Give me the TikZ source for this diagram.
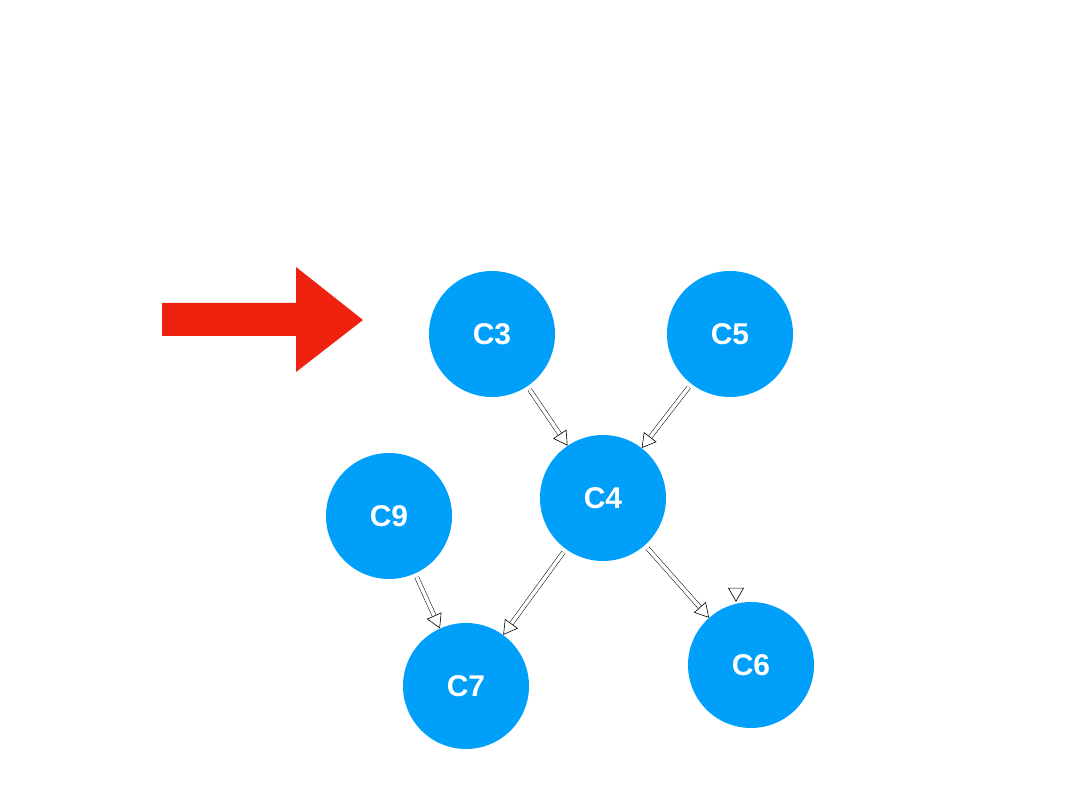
\documentclass[tikz,border=0pt]{standalone}
\usepackage{fontspec}
\setmainfont{Liberation Sans}
\usetikzlibrary{arrows.meta}
\begin{document}
\begin{tikzpicture}[x=1pt,y=-1pt,
  cnode/.style={circle,fill=cblue,minimum size=126pt,inner sep=0pt,text=white,font=\fontsize{30}{30}\selectfont\bfseries},
  link/.style={draw=black,line width=0.5pt,double=white,double distance=3.5pt,shorten <=4pt,
    -{Triangle[open,length=14pt,width=16pt,fill=white,line width=0.6pt]}}]
\definecolor{cblue}{RGB}{0,160,250}
\definecolor{cred}{RGB}{238,34,14}
\useasboundingbox (0,0) rectangle (1080,810);
\fill[cred] (162,303) -- (296,303) -- (296,267) -- (363,320) -- (296,372) -- (296,336) -- (162,336) -- cycle;
\node[cnode] (c3) at (492,334) {C3};
\node[cnode] (c5) at (730,334) {C5};
\node[cnode] (c4) at (603,498) {C4};
\node[cnode] (c9) at (389,516) {C9};
\node[cnode] (c7) at (466,686) {C7};
\node[cnode] (c6) at (751,665) {C6};
\draw[link] (c3) -- (c4);
\draw[link] (c5) -- (c4);
\draw[link] (c5.south -| 736,0) ++(0,4) coordinate (s56) -- (s56 |- c6.north);
\draw[link] (c4) -- (c7);
\draw[link] (c4) -- (c6);
\draw[link] (c9) -- (c7);
\end{tikzpicture}
\end{document}
